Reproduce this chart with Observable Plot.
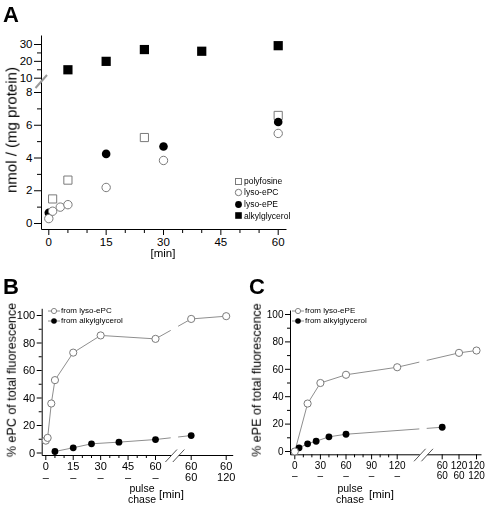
<!DOCTYPE html>
<html><head><meta charset="utf-8">
<script src="https://cdn.jsdelivr.net/npm/d3@7"></script>
<script src="https://cdn.jsdelivr.net/npm/@observablehq/plot@0.6"></script>
<style>
body{margin:0;background:#fff;}
#fig{position:relative;width:488px;height:507px;font-family:"Liberation Sans",Arial,Helvetica,sans-serif;color:#000;overflow:hidden;background:#fff;}
.lbl{position:absolute;white-space:nowrap;line-height:1;color:#000;will-change:transform;}
</style></head><body><div id="fig"></div><script>
// ---------------- DATA ----------------
// Panel A  (x: time [min], y: nmol / mg protein)
const aPolyTime = [1, 5, 25, 60];
const aPolyVal  = [1.5, 2.65, 5.25, 6.6];
const aPCTime   = [0, 1, 3, 5, 15, 30, 60];
const aPCVal    = [0.3, 0.75, 1.0, 1.15, 2.2, 3.85, 5.5];
const aPETime   = [0, 15, 30, 60];
const aPEVal    = [0.65, 4.25, 4.7, 6.2];
const aAlkTime  = [5, 15, 25, 40, 60];
const aAlkVal   = [15, 20, 27, 26, 29.3];
const aYMajor = [0, 2, 4, 6, 8, 10, 20, 30];
const aYMinor = [1, 3, 5, 7, 15, 25];
const aXMajor = [0, 15, 30, 45, 60];
const aXMinor = [5, 10, 20, 25, 35, 40, 50, 55];
const aLegend = ["polyfosine", "lyso-ePC", "lyso-ePE", "alkylglycerol"];

// Panel B  (% ePC of total fluorescence)
const bPCPulse  = [0, 1, 3, 5, 15, 30, 60, 60, 60];
const bPCChase  = [0, 0, 0, 0, 0, 0, 0, 60, 120];
const bPCVal    = [9, 11, 36, 53, 73, 85.5, 83, 97.5, 99.5];
const bAlkPulse = [5, 15, 25, 40, 60, 60];
const bAlkChase = [0, 0, 0, 0, 0, 60];
const bAlkVal   = [1.1, 3.8, 6.7, 7.9, 9.8, 12.7];
const bPulseTicks = [0, 15, 30, 45, 60];
const bPulseMinor = [5, 10, 20, 25, 35, 40, 50, 55];
const bChaseTickPulse = [60, 60];
const bChaseTickChase = [60, 120];
const bYMajor = [0, 20, 40, 60, 80, 100];
const bYMinor = [10, 30, 50, 70, 90];
const bLegend = ["from lyso-ePC", "from alkylglycerol"];

// Panel C  (% ePE of total fluorescence)
const cPEPulse  = [0, 15, 30, 60, 120, 120, 120];
const cPEChase  = [0, 0, 0, 0, 0, 60, 120];
const cPEVal    = [0, 35, 50, 56, 61.5, 72, 73.7];
const cAlkPulse = [0, 5, 15, 25, 40, 60, 60];
const cAlkChase = [0, 0, 0, 0, 0, 0, 60];
const cAlkVal   = [0, 2.7, 5.6, 7.5, 10.7, 12.6, 17.7];
const cPulseTicks = [0, 30, 60, 90, 120];
const cPulseMinor = [10, 20, 40, 50, 70, 80, 100, 110];
const cChaseTickPulse = [60, 120, 120];
const cChaseTickChase = [60, 60, 120];
const cYMajor = [0, 20, 40, 60, 80, 100];
const cYMinor = [10, 30, 50, 70, 90];
const cLegend = ["from lyso-ePE", "from alkylglycerol"];

// ---------------- LAYOUT ----------------
const W = 488, H = 507;
const FONT = '"Liberation Sans", Arial, Helvetica, sans-serif';
const LINE = "#8e8e8e", MK = "#7a7a7a";
const fig = document.getElementById("fig");

function addLayer(svg) {
  svg.style.position = "absolute"; svg.style.left = "0"; svg.style.top = "0";
  fig.appendChild(svg);
}
function text(t, cx, cy, size, extra) {
  const d = document.createElement("div");
  d.className = "lbl"; d.textContent = t;
  d.style.fontSize = size + "px";
  d.style.left = cx + "px"; d.style.top = cy + "px";
  d.style.transform = "translate(-50%,-50%)" + (extra && extra.rotate ? " rotate(-90deg)" : "");
  fig.appendChild(d); return d;
}
function textLeft(t, x, cy, size) {
  const d = document.createElement("div");
  d.className = "lbl"; d.textContent = t;
  d.style.fontSize = size + "px";
  d.style.left = x + "px"; d.style.top = cy + "px";
  d.style.transform = "translateY(-50%)";
  fig.appendChild(d); return d;
}
function twoLine(a, b, cx, cy, size, lh) {
  const d = document.createElement("div");
  d.className = "lbl";
  d.style.fontSize = size + "px"; d.style.lineHeight = lh + "px"; d.style.textAlign = "center";
  d.style.left = cx + "px"; d.style.top = cy + "px";
  d.style.transform = "translate(-50%,-50%)";
  d.appendChild(document.createTextNode(a));
  d.appendChild(document.createElement("br"));
  d.appendChild(document.createTextNode(b));
  fig.appendChild(d); return d;
}
function panelLetter(t, x, capTop) {
  const d = document.createElement("div");
  d.className = "lbl"; d.textContent = t;
  d.style.fontSize = "22px"; d.style.fontWeight = "bold";
  d.style.left = x + "px"; d.style.top = (capTop - 0.13 * 22) + "px";
  fig.appendChild(d);
}
function svgIcon(x, cy, w, h, inner) {
  const ns = "http://www.w3.org/2000/svg";
  const s = document.createElementNS(ns, "svg");
  s.setAttribute("width", w); s.setAttribute("height", h);
  s.style.position = "absolute"; s.style.left = x + "px"; s.style.top = (cy - h / 2) + "px";
  s.innerHTML = inner; fig.appendChild(s);
}
const baseStyle = {background: "transparent", overflow: "visible", fontFamily: FONT, color: "#000"};

// ---------------- PANEL A (broken y axis: two stacked layers) ----------------
(function () {
  const L = {left: 41, right: 286, top: 35, bottom: 229, brkLo: 85.3, brkHi: 79.4};
  const xs = d3.scaleLinear([0, 60], [48.3, 277.7]);
  const yLow = d3.scaleLinear([0, 8], [223, 92]);
  const yHigh = d3.scaleLinear([10, 30], [77.7, 44]);
  const xDomain = [xs.invert(L.left), xs.invert(L.right)];
  const loDom = [yLow.invert(L.bottom), yLow.invert(L.brkLo)];
  const hiDom = [yHigh.invert(L.brkHi), yHigh.invert(L.top)];
  const pts = (T, V) => T.map((t, i) => ({x: t, y: V[i]}));
  const inLo = v => v >= loDom[0] && v <= loDom[1];
  const inHi = v => v >= hiDom[0] && v <= hiDom[1];
  const axes = [
    {x1: xDomain[0], x2: xDomain[0], y1: loDom[0], y2: yLow.invert(L.top)},
    {x1: xDomain[0], x2: xDomain[1], y1: loDom[0], y2: loDom[0]}
  ];
  const brk = [{x1: xs.invert(35), y1: yLow.invert(87.5), x2: xs.invert(46.5), y2: yLow.invert(74.5)}];
  const lower = Plot.plot({
    width: W, height: H,
    marginLeft: L.left, marginRight: W - L.right, marginTop: L.brkLo, marginBottom: H - L.bottom,
    x: {domain: xDomain, range: [L.left, L.right], label: null},
    y: {domain: loDom, range: [L.bottom, L.brkLo], label: null},
    style: {...baseStyle, fontSize: "11.5px"},
    marks: [
      Plot.link(axes, {x1: "x1", x2: "x2", y1: "y1", y2: "y2", stroke: "#000", strokeWidth: 1}),
      Plot.link(brk, {x1: "x1", x2: "x2", y1: "y1", y2: "y2", stroke: "#9a9a9a", strokeWidth: 2}),
      Plot.axisY({ticks: aYMajor.filter(inLo), tickSize: 7, tickPadding: 2, label: null, tickFormat: d => String(d)}),
      Plot.axisY({ticks: aYMinor.filter(inLo), tickSize: 4, label: null, tickFormat: () => ""}),
      Plot.axisX({ticks: aXMajor, tickSize: 6, tickPadding: 2, label: null, tickFormat: d => String(d)}),
      Plot.axisX({ticks: aXMinor, tickSize: 4, label: null, tickFormat: () => ""}),
      Plot.dot(pts(aPolyTime, aPolyVal), {x: "x", y: "y", symbol: "square", r: 4.6, fill: "white", stroke: MK, strokeWidth: 1}),
      Plot.dot(pts(aPETime, aPEVal), {x: "x", y: "y", r: 4.3, fill: "#000"}),
      Plot.dot(pts(aPCTime, aPCVal), {x: "x", y: "y", r: 4.2, fill: "white", stroke: MK, strokeWidth: 1})
    ]
  });
  addLayer(lower);
  const upper = Plot.plot({
    width: W, height: H,
    marginLeft: L.left, marginRight: W - L.right, marginTop: L.top, marginBottom: H - L.brkHi,
    x: {domain: xDomain, range: [L.left, L.right], label: null, axis: null},
    y: {domain: hiDom, range: [L.brkHi, L.top], label: null},
    style: {...baseStyle, fontSize: "11.5px"},
    marks: [
      Plot.axisY({ticks: aYMajor.filter(inHi), tickSize: 7, tickPadding: 2, label: null, tickFormat: d => String(d)}),
      Plot.axisY({ticks: aYMinor.filter(inHi), tickSize: 4, label: null, tickFormat: () => ""}),
      Plot.dot(pts(aAlkTime, aAlkVal), {x: "x", y: "y", symbol: "square", r: 5.2, fill: "#000"})
    ]
  });
  addLayer(upper);
  panelLetter("A", 3, 7);
  text("nmol / (mg protein)", 11, 130, 15, {rotate: true});
  text("[min]", 163, 254, 11.5);
  const ly = [181, 192.3, 204, 215.7];
  const icons = [
    `<rect x="1.5" y="1.5" width="6" height="6" fill="white" stroke="${MK}" stroke-width="1"/>`,
    `<circle cx="4.5" cy="4.5" r="3.2" fill="white" stroke="${MK}" stroke-width="1"/>`,
    `<circle cx="4.5" cy="4.5" r="3.4" fill="#000"/>`,
    `<rect x="1.2" y="1.2" width="6.6" height="6.6" fill="#000"/>`
  ];
  aLegend.forEach((name, i) => {
    svgIcon(234, ly[i], 9, 9, icons[i]);
    textLeft(name, 244, ly[i], 8.5);
  });
})();

// ---------------- PANELS B & C ----------------
function chasePanel(o) {
  const xs = d3.scaleLinear([0, o.pulseRef], [o.x0px, o.xRefPx]);
  const ys = d3.scaleLinear([0, 100], [o.y0px, o.y100px]);
  const xDom = [xs.invert(o.left), xs.invert(o.right)];
  const yDom = [ys.invert(o.bottom), ys.invert(o.top)];
  const slot = o.chasePulse.map((p, i) => xs.invert(o.slotPx[i]));
  const pos = (p, c) => {
    if (c === 0) return p;
    const i = o.chasePulse.findIndex((q, k) => q === p && o.chaseChase[k] === c);
    return slot[i];
  };
  const ser = (P, C, V) => P.map((p, i) => ({x: pos(p, C[i]), y: V[i]}));
  const sOpen = ser(o.open[0], o.open[1], o.open[2]);
  const sFill = ser(o.filled[0], o.filled[1], o.filled[2]);
  const gx = o.gapPx, gh = 3.7;
  const gapL = xs.invert(gx - gh), gapR = xs.invert(gx + gh);
  const axes = [
    {x1: xDom[0], x2: xDom[0], y1: yDom[0], y2: yDom[1]},
    {x1: xDom[0], x2: gapL, y1: yDom[0], y2: yDom[0]},
    {x1: gapR, x2: xDom[1], y1: yDom[0], y2: yDom[0]}
  ];
  const diags = [-gh, gh].map(off => ({
    x1: xs.invert(gx + off - 5.8), y1: ys.invert(o.bottom + 6.5),
    x2: xs.invert(gx + off + 5.8), y2: ys.invert(o.bottom - 6)
  }));
  const cover = [{x1: gapL, x2: gapR, y1: ys.invert(o.bottom - 3), y2: yDom[1]}];
  const labTicks = o.pulseTicks.concat(slot);
  const labText = o.pulseTicks.map(p => p + "\n\u2013").concat(o.chasePulse.map((p, i) => p + "\n" + o.chaseChase[i]));
  const fmt = v => { const i = labTicks.indexOf(v); return i >= 0 ? labText[i] : ""; };
  const svg = Plot.plot({
    width: W, height: H,
    marginLeft: o.left, marginRight: W - o.right, marginTop: o.top, marginBottom: H - o.bottom,
    x: {domain: xDom, range: [o.left, o.right], label: null},
    y: {domain: yDom, range: [o.bottom, o.top], label: null},
    style: {...baseStyle, fontSize: o.tickFont + "px"},
    marks: [
      Plot.line(sFill, {x: "x", y: "y", stroke: LINE, strokeWidth: 1}),
      Plot.line(sOpen, {x: "x", y: "y", stroke: LINE, strokeWidth: 1}),
      Plot.rect(cover, {x1: "x1", x2: "x2", y1: "y1", y2: "y2", fill: "white"}),
      Plot.link(axes, {x1: "x1", x2: "x2", y1: "y1", y2: "y2", stroke: "#000", strokeWidth: 1}),
      Plot.link(diags, {x1: "x1", x2: "x2", y1: "y1", y2: "y2", stroke: "#555", strokeWidth: 1}),
      Plot.axisY({ticks: o.yMajor, tickSize: 5, tickPadding: 2, label: null, tickFormat: d => String(d)}),
      Plot.axisY({ticks: o.yMinor, tickSize: 3, label: null, tickFormat: () => ""}),
      Plot.axisX({ticks: labTicks, tickSize: 5, tickPadding: 2, label: null, tickFormat: fmt, lineHeight: 1}),
      Plot.axisX({ticks: o.pulseMinor, tickSize: 3, label: null, tickFormat: () => ""}),
      Plot.dot(sFill, {x: "x", y: "y", r: 3.4, fill: "#000"}),
      Plot.dot(sOpen, {x: "x", y: "y", r: 3.6, fill: "white", stroke: MK, strokeWidth: 1})
    ]
  });
  addLayer(svg);
  panelLetter(o.letter, o.letterX, 279);
  text(o.title, o.titleX, 380, 12.5, {rotate: true});
  twoLine("pulse", "chase", o.pulseX, 493, 10.5, 10.5);
  textLeft("[min]", o.minX, 495, 11.5);
  const icons = [
    `<line x1="0" y1="4" x2="12" y2="4" stroke="${LINE}" stroke-width="1"/><circle cx="6" cy="4" r="2.6" fill="white" stroke="${MK}" stroke-width="0.9"/>`,
    `<line x1="0" y1="4" x2="12" y2="4" stroke="${LINE}" stroke-width="1"/><circle cx="6" cy="4" r="2.8" fill="#000"/>`
  ];
  o.legend.forEach((name, i) => {
    svgIcon(o.legX, o.legY[i], 12, 8, icons[i]);
    textLeft(name, o.legX + 13, o.legY[i], 8);
  });
}

chasePanel({
  letter: "B", letterX: 3, title: "% ePC of total fluorescence", titleX: 12,
  left: 41.7, right: 232.7, top: 308.3, bottom: 455, tickFont: 11,
  x0px: 45.3, pulseRef: 60, xRefPx: 155, y0px: 452.5, y100px: 315,
  slotPx: [190.7, 225.7], gapPx: 174.4,
  chasePulse: bChaseTickPulse, chaseChase: bChaseTickChase,
  pulseTicks: bPulseTicks, pulseMinor: bPulseMinor, yMajor: bYMajor, yMinor: bYMinor,
  open: [bPCPulse, bPCChase, bPCVal], filled: [bAlkPulse, bAlkChase, bAlkVal],
  legend: bLegend, legX: 47.5, legY: [311, 321], pulseX: 141.7, minX: 159
});
chasePanel({
  letter: "C", letterX: 249, title: "% ePE of total fluorescence", titleX: 257,
  left: 290, right: 481, top: 310, bottom: 454.3, tickFont: 10,
  x0px: 294.3, pulseRef: 120, xRefPx: 396.7, y0px: 451, y100px: 314,
  slotPx: [441.7, 458.5, 476], gapPx: 423,
  chasePulse: cChaseTickPulse, chaseChase: cChaseTickChase,
  pulseTicks: cPulseTicks, pulseMinor: cPulseMinor, yMajor: cYMajor, yMinor: cYMinor,
  open: [cPEPulse, cPEChase, cPEVal], filled: [cAlkPulse, cAlkChase, cAlkVal],
  legend: cLegend, legX: 292, legY: [311, 321], pulseX: 350, minX: 369
});
</script></body></html>
